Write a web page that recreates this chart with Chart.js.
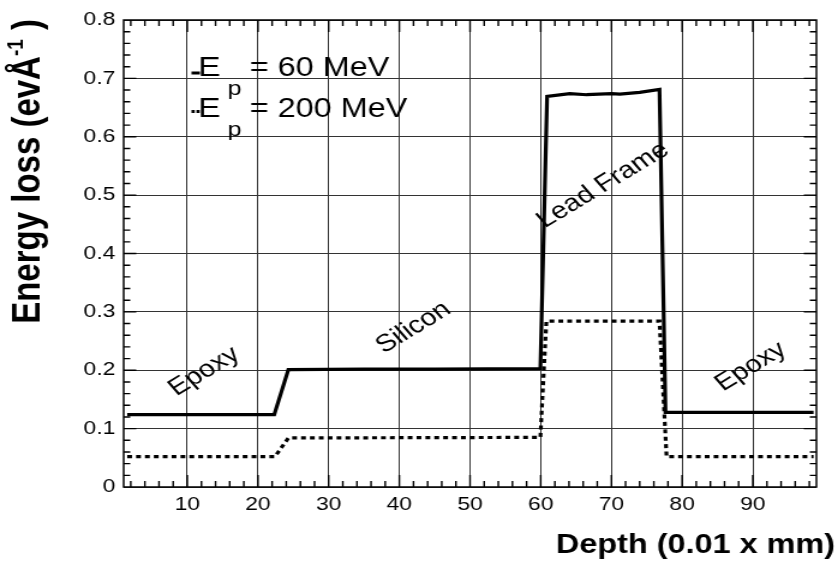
<!DOCTYPE html>
<html>
<head>
<meta charset="utf-8">
<script src="https://cdn.jsdelivr.net/npm/chart.js@4/dist/chart.umd.min.js"></script>
<style>
  html, body { margin: 0; padding: 0; background: #fff; overflow: hidden; }
  #wrap { width: 698px; height: 568px; transform: scaleX(1.2006); transform-origin: 0 0; }
</style>
</head>
<body>
<div id="wrap"><canvas id="c" width="698" height="568"></canvas></div>
<script>
// Energy loss profile through the package, depth in units of 0.01 mm
const depth60  = [1.5, 22.3, 24.3, 35.0, 45.0, 59.95, 60.9, 64.1, 66.5, 70.0, 71.2, 74.0, 76.8, 77.65, 98.6];
const loss60   = [0.124, 0.124, 0.201, 0.202, 0.202, 0.203, 0.669, 0.674, 0.672, 0.674, 0.673, 0.676, 0.681, 0.128, 0.128];
const depth200 = [1.5, 22.4, 24.3, 59.95, 60.8, 76.8, 77.8, 98.6];
const loss200  = [0.052, 0.052, 0.084, 0.085, 0.284, 0.284, 0.052, 0.052];

const xTickValues = [10, 20, 30, 40, 50, 60, 70, 80, 90];
const yTickValues = [0, 0.1, 0.2, 0.3, 0.4, 0.5, 0.6, 0.7, 0.8];

// Material layers written along the profile
const regionNames = ['Epoxy', 'Silicon', 'Lead Frame', 'Epoxy'];
const regionDepth = [12.4, 42.0, 68.8, 89.7];
const regionLoss  = [0.198, 0.273, 0.517, 0.206];

const legendEnergies = ['60 MeV', '200 MeV'];

const SANS = '"Liberation Sans", Arial, Helvetica, sans-serif';

function toPoints(xs, ys) { return xs.map((x, i) => ({ x: x, y: ys[i] })); }

const rootStyle = {
  id: 'rootStyle',
  afterDatasetsDraw(chart) {
    const ctx = chart.ctx, a = chart.chartArea;
    const xs = chart.scales.x, ys = chart.scales.y;
    ctx.save();
    ctx.strokeStyle = '#000';
    ctx.lineWidth = 1.4;
    ctx.setLineDash([]);
    ctx.beginPath();
    // tick marks inside the frame on all four sides
    for (let i = 1; i <= 49; i++) {
      const v = i * 2;
      if (v <= xs.min || v >= xs.max) continue;
      const px = xs.getPixelForValue(v);
      const len = (v % 10 === 0) ? 12 : 6;
      ctx.moveTo(px, a.bottom); ctx.lineTo(px, a.bottom - len);
      ctx.moveTo(px, a.top);    ctx.lineTo(px, a.top + len);
    }
    for (let i = 1; i < 40; i++) {
      const py = ys.getPixelForValue(i * 0.02);
      const len = (i % 5 === 0) ? 10.5 : 5.5;
      ctx.moveTo(a.left, py);  ctx.lineTo(a.left + len, py);
      ctx.moveTo(a.right, py); ctx.lineTo(a.right - len, py);
    }
    ctx.stroke();
    ctx.lineWidth = 1.5;
    ctx.strokeRect(a.left, a.top, a.right - a.left, a.bottom - a.top);
    ctx.restore();
  },
  afterDraw(chart) {
    const ctx = chart.ctx;
    const xs = chart.scales.x, ys = chart.scales.y;
    ctx.save();
    ctx.fillStyle = '#000';

    // layer names, tilted along the profile
    ctx.font = '24px ' + SANS;
    ctx.textAlign = 'center';
    ctx.textBaseline = 'middle';
    regionNames.forEach((name, i) => {
      ctx.save();
      ctx.translate(xs.getPixelForValue(regionDepth[i]), ys.getPixelForValue(regionLoss[i]));
      ctx.rotate(-36 * Math.PI / 180);
      ctx.fillText(name, 0, 0);
      ctx.restore();
    });

    // legend
    ctx.textAlign = 'left';
    ctx.textBaseline = 'alphabetic';
    const rows = [{ base: 76, mark: 73, dash: [] }, { base: 116.7, mark: 111.6, dash: [2.7, 1.4] }];
    rows.forEach((r, i) => {
      ctx.save();
      ctx.strokeStyle = '#000';
      ctx.lineWidth = 3;
      ctx.setLineDash(r.dash);
      ctx.beginPath();
      ctx.moveTo(159.5, r.mark); ctx.lineTo(166.5, r.mark);
      ctx.stroke();
      ctx.restore();
      ctx.font = '28px ' + SANS;
      ctx.fillText('E', 165, r.base);
      ctx.font = '21px ' + SANS;
      ctx.fillText('p', 189.5, r.base + 19);
      ctx.font = '27px ' + SANS;
      ctx.fillText('= ' + legendEnergies[i], 208, r.base);
    });

    // x axis title, right aligned
    ctx.font = 'bold 27px ' + SANS;
    ctx.textAlign = 'right';
    ctx.fillText('Depth (0.01 x mm)', 695.5, 553);

    // y axis title, rotated, right aligned at the top
    const parts = [
      { t: 'Energy loss (evÅ', f: 'bold 33px ' + SANS, rise: 0 },
      { t: '-1', f: 'bold 19px ' + SANS, rise: 14 },
      { t: ' )', f: 'bold 33px ' + SANS, rise: 0 }
    ];
    let total = 0;
    parts.forEach(p => { ctx.font = p.f; p.w = ctx.measureText(p.t).width; total += p.w; });
    ctx.translate(33, 19);
    ctx.rotate(-Math.PI / 2);
    ctx.textAlign = 'left';
    let x = -total;
    parts.forEach(p => { ctx.font = p.f; ctx.fillText(p.t, x, -p.rise); x += p.w; });
    ctx.restore();
  }
};

new Chart(document.getElementById('c'), {
  type: 'line',
  data: {
    datasets: [
      {
        label: 'E_p = 60 MeV',
        data: toPoints(depth60, loss60),
        borderColor: '#000',
        borderWidth: 3.2,
        pointRadius: 0,
        tension: 0,
        fill: false,
        borderJoinStyle: 'miter'
      },
      {
        label: 'E_p = 200 MeV',
        data: toPoints(depth200, loss200),
        borderColor: '#000',
        borderWidth: 3.2,
        borderDash: [4, 3.4],
        pointRadius: 0,
        tension: 0,
        fill: false,
        borderJoinStyle: 'miter'
      }
    ]
  },
  options: {
    responsive: false,
    animation: false,
    devicePixelRatio: 1,
    layout: { padding: { top: 20, right: 18, left: 0, bottom: 0 } },
    plugins: { legend: { display: false }, tooltip: { enabled: false } },
    scales: {
      x: {
        type: 'linear',
        min: 1,
        max: 99,
        afterBuildTicks: (s) => { s.ticks = xTickValues.map(v => ({ value: v })); },
        afterFit: (s) => { s.height = 81; },
        ticks: { color: '#000', font: { family: SANS, size: 19 }, padding: 6, maxRotation: 0, autoSkip: false },
        grid: { color: '#333', lineWidth: 1, borderDash: [1.2, 2.8], drawTicks: false },
        border: { display: false }
      },
      y: {
        type: 'linear',
        min: 0,
        max: 0.8,
        afterBuildTicks: (s) => { s.ticks = yTickValues.map(v => ({ value: v })); },
        afterFit: (s) => { s.width = 103; },
        ticks: {
          color: '#000', font: { family: SANS, size: 19 }, padding: 7, autoSkip: false,
          callback: (v) => (v === 0 ? '0' : Number(v).toFixed(1))
        },
        grid: { color: '#333', lineWidth: 1, borderDash: [1, 2.4], drawTicks: false },
        border: { display: false }
      }
    }
  },
  plugins: [rootStyle]
});
</script>
</body>
</html>
